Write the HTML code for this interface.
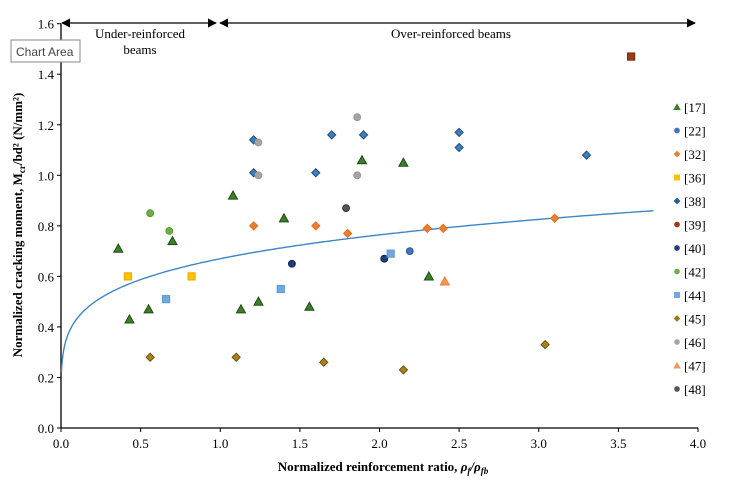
<!DOCTYPE html>
<html><head><meta charset="utf-8"><style>
body{margin:0;background:#fff;}
svg{display:block;font-family:"Liberation Serif",serif;}
</style></head><body>
<svg id="chart" width="729" height="484">
<defs>
<marker id="ah" viewBox="0 0 10 10" refX="9" refY="5" markerWidth="7" markerHeight="7" orient="auto-start-reverse"><path d="M0,0L10,5L0,10z" fill="#000"/></marker>
</defs>
<g id="axes"></g>
<g id="marks"></g>
<g id="legend"></g>
<line x1="62" y1="23" x2="216" y2="23" stroke="#000" stroke-width="1.3" marker-start="url(#ah)" marker-end="url(#ah)"/>
<line x1="220" y1="23" x2="695" y2="23" stroke="#000" stroke-width="1.3" marker-start="url(#ah)" marker-end="url(#ah)"/>
<text x="140" y="38" font-size="13" text-anchor="middle">Under-reinforced</text>
<text x="140" y="54" font-size="13" text-anchor="middle">beams</text>
<text x="451" y="38" font-size="13" text-anchor="middle">Over-reinforced beams</text>
<g>
<rect x="11" y="40" width="69" height="22" fill="#fff" stroke="#888" stroke-width="1"/>
<text x="16" y="56" font-size="12" font-family="Liberation Sans, sans-serif" fill="#444">Chart Area</text>
</g>
<text transform="translate(22,225) rotate(-90)" font-size="13" font-weight="bold" text-anchor="middle">Normalized cracking moment, M<tspan font-size="9" dy="3">cr</tspan><tspan dy="-3">/bd² (N/mm²)</tspan></text>
<text x="383" y="471" font-size="13" font-weight="bold" text-anchor="middle">Normalized reinforcement ratio, <tspan font-style="italic">ρ<tspan font-size="9" dy="3">f</tspan><tspan dy="-3">/ρ</tspan><tspan font-size="9" dy="3">fb</tspan></tspan></text>
</svg>
<script>
const xTicks=[0,0.5,1.0,1.5,2.0,2.5,3.0,3.5,4.0];
const yTicks=[0,0.2,0.4,0.6,0.8,1.0,1.2,1.4,1.6];
const seriesNames=["[17]","[22]","[32]","[36]","[38]","[39]","[40]","[42]","[44]","[45]","[46]","[47]","[48]"];
const s17x=[0.36,0.43,0.55,0.70,1.08,1.13,1.24,1.40,1.56,1.89,2.15,2.31];
const s17y=[0.71,0.43,0.47,0.74,0.92,0.47,0.50,0.83,0.48,1.06,1.05,0.60];
const s22x=[2.19],s22y=[0.70];
const s32x=[1.21,1.60,1.80,2.30,2.40,3.10];
const s32y=[0.80,0.80,0.77,0.79,0.79,0.83];
const s36x=[0.42,0.82],s36y=[0.60,0.60];
const s38x=[1.21,1.21,1.60,1.70,1.90,2.50,2.50,3.30];
const s38y=[1.14,1.01,1.01,1.16,1.16,1.17,1.11,1.08];
const s39x=[3.58],s39y=[1.47];
const s40x=[1.45,2.03],s40y=[0.65,0.67];
const s42x=[0.56,0.68],s42y=[0.85,0.78];
const s44x=[0.66,1.38,2.07],s44y=[0.51,0.55,0.69];
const s45x=[0.56,1.10,1.65,2.15,3.04],s45y=[0.28,0.28,0.26,0.23,0.33];
const s46x=[1.24,1.24,1.86,1.86],s46y=[1.13,1.00,1.23,1.00];
const s47x=[2.41],s47y=[0.58];
const s48x=[1.79],s48y=[0.87];
const fitCoef=[0.67,0.19];
const fitRange=[0.003,3.72];

const NS="http://www.w3.org/2000/svg";
const X0=61,X1=698,Y0=428,Y1=23.7;
const sx=v=>X0+(v-0)/(4-0)*(X1-X0);
const sy=v=>Y0-(v-0)/(1.6-0)*(Y0-Y1);
function mk(tag,attrs,parent){const e=document.createElementNS(NS,tag);for(const k in attrs)e.setAttribute(k,attrs[k]);parent.appendChild(e);return e;}
const axes=document.getElementById('axes');
let l=mk('line',{x1:X0,y1:Y0,x2:X1,y2:Y0,stroke:'#000','stroke-width':1.3},axes);


l=mk('line',{x1:X0,y1:Y0,x2:X0,y2:Y1,stroke:'#000','stroke-width':1.3},axes);


xTicks.forEach(t=>{
 mk('line',{x1:sx(t),y1:Y0,x2:sx(t),y2:Y0+4,stroke:'#000'},axes);
 const tx=mk('text',{x:sx(t),y:Y0+20,'font-size':13,'text-anchor':'middle'},axes);
 tx.textContent=t.toFixed(1);
 
 
});
yTicks.forEach(t=>{
 mk('line',{x1:X0-4,y1:sy(t),x2:X0,y2:sy(t),stroke:'#000'},axes);
 const tx=mk('text',{x:X0-7,y:sy(t)+5,'font-size':13,'text-anchor':'end'},axes);
 tx.textContent=t.toFixed(1);
 
 
});
const marks=document.getElementById('marks');
let d='';
for(let i=0;i<=300;i++){const x=fitRange[0]+(fitRange[1]-fitRange[0])*Math.pow(i/300,2);const y=fitCoef[0]*Math.pow(x,fitCoef[1]);d+=(i?'L':'M')+sx(x).toFixed(1)+','+sy(y).toFixed(1);}
const fc=mk('path',{d:d,fill:'none',stroke:'#3d86c6','stroke-width':1.4},marks);


function shape(type,cx,cy,fill,stroke,parent,sz){
 sz=sz||1;
 if(type==='tri')return mk('path',{d:`M${cx},${cy-5*sz}L${cx+5*sz},${cy+4*sz}L${cx-5*sz},${cy+4*sz}z`,fill:fill,stroke:stroke,'stroke-width':1},parent);
 if(type==='circ')return mk('circle',{cx:cx,cy:cy,r:3.8*sz,fill:fill,stroke:stroke,'stroke-width':1},parent);
 if(type==='sq')return mk('rect',{x:cx-4*sz,y:cy-4*sz,width:8*sz,height:8*sz,fill:fill,stroke:stroke,'stroke-width':1},parent);
 return mk('path',{d:`M${cx},${cy-4.5*sz}L${cx+4.5*sz},${cy}L${cx},${cy+4.5*sz}L${cx-4.5*sz},${cy}z`,fill:fill,stroke:stroke,'stroke-width':1},parent);
}
const styles=[['tri','#3f7d2a','#1e4d14'],['circ','#4472c4','#2f5597'],['dia','#ed7d31','#e07020'],['sq','#ffc000','#e6ad00'],['dia','#3a7fc0','#1f4e79'],['sq','#9e3a12','#6b2a0e'],['circ','#1f3d7a','#0f2550'],['circ','#70ad47','#5a9a35'],['sq','#72a8dc','#5b9bd5'],['dia','#a88418','#6b5210'],['circ','#a5a5a5','#999'],['tri','#f4955a','#ed7d31'],['circ','#555','#333']];
const legendShapes=[['tri','#3f7d2a'],['circ','#4472c4'],['dia','#ed7d31'],['sq','#ffc000'],['dia','#1f5c99'],['circ','#9e3a12'],['circ','#1f3d7a'],['circ','#70ad47'],['sq','#72a8dc'],['dia','#9c7a16'],['circ','#a5a5a5'],['tri','#f4955a'],['circ','#555']];
const allX=[s17x,s22x,s32x,s36x,s38x,s39x,s40x,s42x,s44x,s45x,s46x,s47x,s48x];
const allY=[s17y,s22y,s32y,s36y,s38y,s39y,s40y,s42y,s44y,s45y,s46y,s47y,s48y];
allX.forEach((xs,si)=>{
 const st=styles[si];
 xs.forEach((x,i)=>{
  const e=shape(st[0],sx(x),sy(allY[si][i]),st[1],st[2],marks,0.9);
  
  
 });
});
const lg=document.getElementById('legend');
seriesNames.forEach((n,i)=>{
 const y=107+i*23.5;
 const g=mk('g',{},lg);
 
 
 shape(legendShapes[i][0],677,y,legendShapes[i][1],'none',g,0.75);
 const t=mk('text',{x:684,y:y+5,'font-size':13},g);
 t.textContent=n;
});
</script>
</body></html>
